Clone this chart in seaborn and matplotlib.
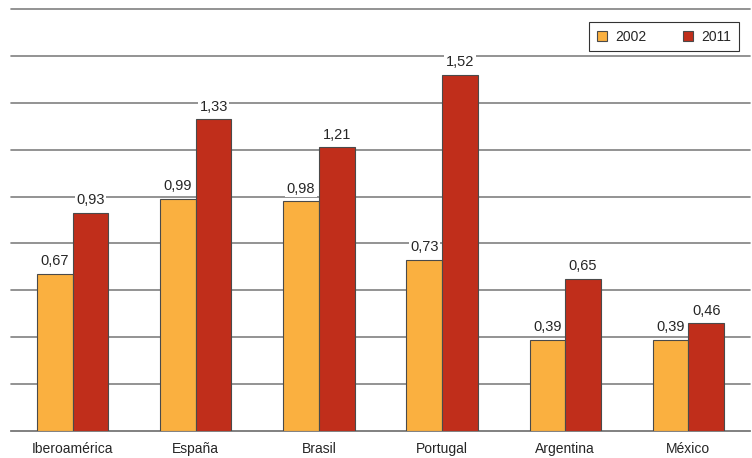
import pandas as pd
import numpy as np
import matplotlib.pyplot as plt
import seaborn as sns

sns.set_style("white")
plt.rcParams['font.family'] = ['Liberation Sans', 'DejaVu Sans']

paises = ['Iberoamérica', 'España', 'Brasil', 'Portugal', 'Argentina', 'México']
v2002 = [0.67, 0.99, 0.98, 0.73, 0.39, 0.39]
v2011 = [0.93, 1.33, 1.21, 1.52, 0.65, 0.46]

df = pd.DataFrame({
    'pais': paises * 2,
    'anio': ['2002'] * len(paises) + ['2011'] * len(paises),
    'valor': v2002 + v2011,
})

fig = plt.figure(figsize=(7.52, 4.58), dpi=100)
ax = fig.add_axes([11 / 752, 27 / 458, 739 / 752, 422 / 458])

sns.barplot(data=df, x='pais', y='valor', hue='anio', ax=ax,
            palette=['#FAB040', '#C02E1B'], saturation=1, width=0.58,
            edgecolor='#4a4a4a', linewidth=0.8, zorder=3)

ax.set_ylim(0, 1.8)
ax.set_xlim(-0.5, 5.5)
ax.set_yticks(np.arange(0, 1.81, 0.2))
ax.set_yticklabels([])
ax.yaxis.grid(True, color='#808080', linewidth=1.2, zorder=0)
for gl in ax.get_ygridlines():
    gl.set_clip_on(False)
ax.tick_params(axis='y', length=0)
ax.set_xlabel('')
ax.set_ylabel('')
for s in ['top', 'left', 'right']:
    ax.spines[s].set_visible(False)
ax.spines['bottom'].set_color('#808080')
ax.spines['bottom'].set_linewidth(1.2)
ax.set_xticks(np.arange(-0.5, 6, 1), minor=True)
ax.tick_params(axis='x', which='major', length=0, labelsize=10, pad=8)
ax.tick_params(axis='x', which='minor', length=4, color='#808080', width=1)

for cont in ax.containers:
    labels = [f'{b.get_height():.2f}'.replace('.', ',') for b in cont]
    txts = ax.bar_label(cont, labels=labels, padding=4, fontsize=10.5)
    for t in txts:
        t.set_bbox(dict(facecolor='white', edgecolor='none', pad=1))
        t.set_zorder(2.5)

leg = ax.legend(loc='upper right', bbox_to_anchor=(1 - 11 / 739, 1 - 13 / 422),
                ncol=2, frameon=True, fancybox=False, fontsize=10,
                handlelength=0.75, handleheight=0.75, columnspacing=2.6,
                borderpad=0.55, handletextpad=0.6, borderaxespad=0)
leg.get_frame().set_edgecolor('black')
leg.get_frame().set_linewidth(0.8)

fig.savefig('out.png', dpi=100)
